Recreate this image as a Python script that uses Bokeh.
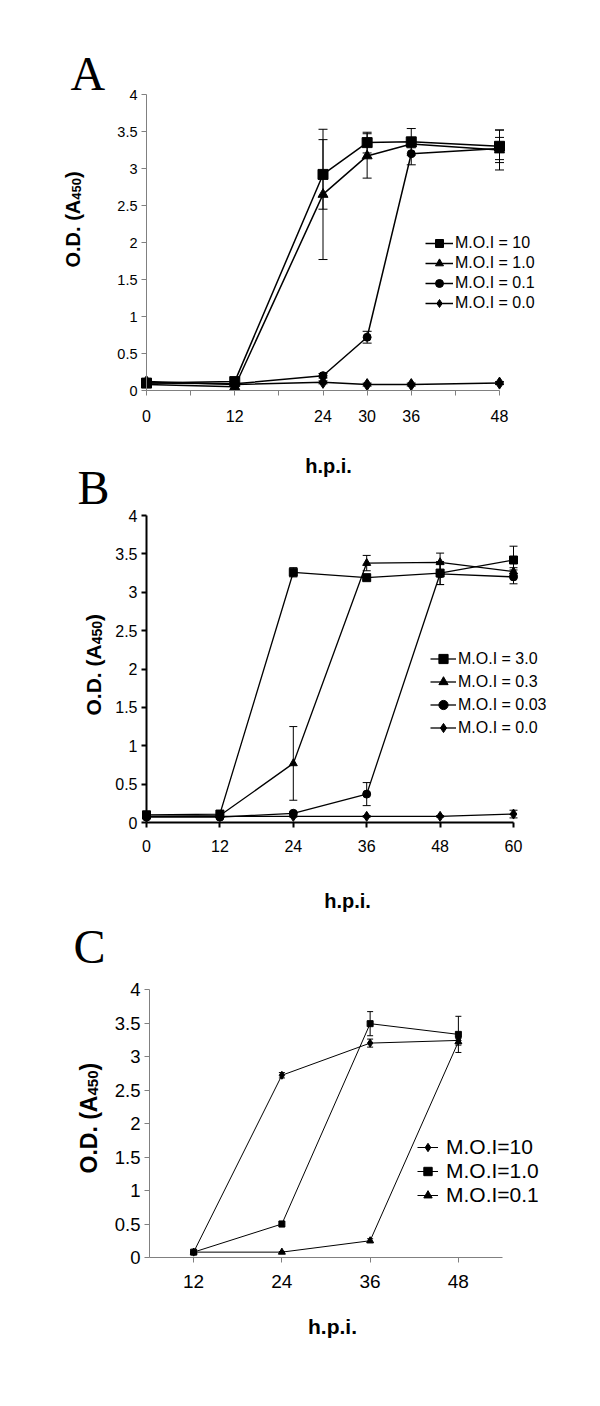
import math
from bokeh.plotting import figure
from bokeh.models import (ColumnDataSource, Whisker, TeeHead, Legend, LegendItem,
                          Label, FixedTicker, Range1d, LinearAxis)
from bokeh.layouts import column
from bokeh.embed import file_html
from bokeh.resources import INLINE

# ---------------- data ----------------
# Panel A
a_hpi = [0, 12, 24, 30, 36, 48]
a_moi10 = [0.10, 0.12, 2.92, 3.35, 3.36, 3.30]
a_moi10_err = [0.04, 0.04, 0.47, 0.14, 0.18, 0.22]
a_moi1 = [0.08, 0.05, 2.65, 3.17, 3.33, 3.25]
a_moi1_err = [0.03, 0.03, 0.88, 0.30, 0.05, 0.27]
a_moi01 = [0.10, 0.09, 0.20, 0.72, 3.20, 3.27]
a_moi01_err = [0.03, 0.02, 0.03, 0.08, 0.15, 0.15]
a_moi0 = [0.12, 0.08, 0.11, 0.08, 0.08, 0.10]
a_moi0_err = [0.03, 0.02, 0.02, 0.02, 0.02, 0.02]
a_labels = ["M.O.I = 10", "M.O.I = 1.0", "M.O.I = 0.1", "M.O.I = 0.0"]

# Panel B
b_hpi = [0, 12, 24, 36, 48, 60]
b_moi3 = [0.10, 0.11, 3.26, 3.19, 3.25, 3.42]
b_moi3_err = [0.02, 0.02, 0.06, 0.03, 0.15, 0.18]
b_moi03 = [0.08, 0.09, 0.77, 3.38, 3.39, 3.27]
b_moi03_err = [0.02, 0.02, 0.48, 0.10, 0.12, 0.05]
b_moi003 = [0.07, 0.07, 0.12, 0.37, 3.24, 3.20]
b_moi003_err = [0.02, 0.02, 0.02, 0.15, 0.14, 0.09]
b_moi0 = [0.08, 0.08, 0.08, 0.08, 0.08, 0.11]
b_moi0_err = [0.01, 0.01, 0.01, 0.01, 0.01, 0.05]
b_labels = ["M.O.I = 3.0", "M.O.I = 0.3", "M.O.I = 0.03", "M.O.I = 0.0"]

# Panel C
c_hpi = [12, 24, 36, 48]
c_moi10 = [0.08, 2.72, 3.20, 3.24]
c_moi10_err = [0.01, 0.04, 0.06, 0.04]
c_moi1 = [0.08, 0.50, 3.49, 3.33]
c_moi1_err = [0.01, 0.04, 0.18, 0.27]
c_moi01 = [0.08, 0.08, 0.25, 3.22]
c_moi01_err = [0.01, 0.01, 0.03, 0.05]
c_labels = ["M.O.I=10", "M.O.I=1.0", "M.O.I=0.1"]

y_ticks = [0, 0.5, 1, 1.5, 2, 2.5, 3, 3.5, 4]
y_tick_labels = ["0", "0.5", "1", "1.5", "2", "2.5", "3", "3.5", "4"]

FONT = "Liberation Sans"
PAGE_W = 584
ORIGIN = 0  # page offset of the layout as observed in the render


def make_panel(cfg):
    top, h = cfg["top"], cfg["h"]
    fl, fr, ft, fb = cfg["frame"]   # page pixel box of the data area
    xr = cfg["xr"]

    def dx(px):
        return xr[0] + (px - fl) / (fr - fl) * (xr[1] - xr[0])

    def dy(py):
        return (fb - py) / (fb - ft) * 4.0

    p = figure(width=PAGE_W, height=h,
               x_range=Range1d(dx(ORIGIN), dx(ORIGIN + PAGE_W)),
               y_range=Range1d(dy(top + h), dy(top)),
               output_backend="svg", toolbar_location=None,
               x_axis_location=None, y_axis_location=None,
               min_border=0)
    p.outline_line_color = None
    p.xgrid.visible = False
    p.ygrid.visible = False
    p.background_fill_color = "white"

    if cfg["xr"] is not None and cfg.get("series"):
        # axes fixed at the data origin
        xax = LinearAxis(fixed_location=0, bounds=xr)
        yax = LinearAxis(fixed_location=xr[0], bounds=(0, 4))
        for ax in (xax, yax):
            ax.axis_line_color = cfg["axis_color"]
            ax.axis_line_width = cfg["axis_width"]
            ax.major_tick_line_color = cfg["axis_color"]
            ax.major_tick_line_width = cfg["axis_width"]
            ax.major_tick_out = 5
            ax.major_tick_in = 0
            ax.minor_tick_line_color = None
            ax.major_label_text_font = FONT
            ax.major_label_text_color = "black"
        yax.ticker = FixedTicker(ticks=y_ticks)
        yax.major_label_overrides = {t: s for t, s in zip(y_ticks, y_tick_labels)}
        yax.major_label_text_font_size = cfg["ytick_fs"]
        yax.major_label_standoff = 4
        xax.ticker = FixedTicker(ticks=cfg["xticks"])
        xax.major_label_overrides = cfg["xlabels"]
        xax.major_label_text_font_size = cfg["xtick_fs"]
        xax.major_label_standoff = cfg["x_standoff"]
        p.add_layout(xax, "below")
        p.add_layout(yax, "left")

    # series
    items = []
    for (x, y, e, marker, size, label) in cfg["series"]:
        src = ColumnDataSource(dict(x=x, y=y,
                                    lo=[a - b for a, b in zip(y, e)],
                                    hi=[a + b for a, b in zip(y, e)]))
        w = Whisker(source=src, base="x", upper="hi", lower="lo",
                    line_color="black", line_width=1,
                    upper_head=TeeHead(size=cfg["cap"], line_color="black", line_width=1),
                    lower_head=TeeHead(size=cfg["cap"], line_color="black", line_width=1))
        p.add_layout(w)
        lr = p.line("x", "y", source=src, line_color="black", line_width=cfg["lw"])
        sr = p.scatter("x", "y", source=src, marker=marker, size=size,
                       fill_color="black", line_color="black")
        items.append((label, [lr, sr]))

    legend_items = [LegendItem(label=l, renderers=r) for l, r in reversed(items)]
    lg_x, lg_top, row_h, gw, stand, fs = cfg["legend"]
    lg = Legend(items=legend_items,
                location=(lg_x - ORIGIN, (top + h) - (lg_top + row_h * len(legend_items))),
                padding=0, margin=0, spacing=0,
                glyph_width=gw, glyph_height=row_h, label_height=row_h,
                label_standoff=stand, label_text_font=FONT, label_text_font_size=fs,
                label_text_color="black",
                border_line_alpha=0, background_fill_alpha=0)
    p.add_layout(lg, "center")

    # panel letter
    lx, lb = cfg["letter_pos"]
    p.add_layout(Label(x=dx(lx), y=dy(lb), text=cfg["letter"], text_font="Liberation Serif",
                       text_font_size="48px", text_align="left", text_baseline="alphabetic",
                       text_color="black"))
    # x titles (page positions; one may belong to the panel above)
    for tx, tb, tfs in cfg["xtitles"]:
        p.add_layout(Label(x=dx(tx), y=dy(tb), text="h.p.i.", text_font=FONT,
                           text_font_style="bold", text_font_size=f"{tfs}px",
                           text_align="center", text_baseline="alphabetic",
                           text_color="black"))
    # y title with subscript
    bx, sy, F = cfg["ytitle"]
    sub = round(F * 0.65)
    w1 = 3.389 * F
    w2 = 1.668 * sub
    common = dict(angle=math.pi / 2, text_font=FONT, text_font_style="bold",
                  text_align="left", text_baseline="alphabetic", text_color="black")
    p.add_layout(Label(x=dx(bx), y=dy(sy), text="O.D. (A", text_font_size=f"{F}px", **common))
    p.add_layout(Label(x=dx(bx + 0.18 * F), y=dy(sy - w1), text="450",
                       text_font_size=f"{sub}px", **common))
    p.add_layout(Label(x=dx(bx), y=dy(sy - w1 - w2), text=")", text_font_size=f"{F}px", **common))
    return p


cfgA = dict(
    top=0, h=448, frame=(146, 499, 94, 390), xr=(0, 48),
    axis_color="#808080", axis_width=1, ytick_fs="14.5px", xtick_fs="16px", x_standoff=14,
    xticks=[0, 6, 12, 18, 24, 30, 36, 42, 48],
    xlabels={0: "0", 6: "", 12: "12", 18: "", 24: "24", 30: "30", 36: "36", 42: "", 48: "48"},
    cap=9, lw=1.5,
    series=[
        (a_hpi, a_moi0, a_moi0_err, "diamond", 12, a_labels[3]),
        (a_hpi, a_moi01, a_moi01_err, "circle", 8, a_labels[2]),
        (a_hpi, a_moi1, a_moi1_err, "triangle", 10, a_labels[1]),
        (a_hpi, a_moi10, a_moi10_err, "square", 10, a_labels[0]),
    ],
    legend=(425, 233, 20, 28, 2, "16px"),
    letter="A", letter_pos=(70, 73),
    xtitles=[],
    ytitle=(72, 267, 20),
)

cfgB = dict(
    top=448, h=430, frame=(146, 513, 515, 822), xr=(0, 60),
    axis_color="black", axis_width=2, ytick_fs="16px", xtick_fs="16px", x_standoff=12,
    xticks=[0, 12, 24, 36, 48, 60],
    xlabels={0: "0", 12: "12", 24: "24", 36: "36", 48: "48", 60: "60"},
    cap=8, lw=1.3,
    series=[
        (b_hpi, b_moi0, b_moi0_err, "diamond", 10, b_labels[3]),
        (b_hpi, b_moi003, b_moi003_err, "circle", 8, b_labels[2]),
        (b_hpi, b_moi03, b_moi03_err, "triangle", 8, b_labels[1]),
        (b_hpi, b_moi3, b_moi3_err, "square", 8, b_labels[0]),
    ],
    legend=(430, 647, 23, 26, 2, "16px"),
    letter="B", letter_pos=(77, 487),
    xtitles=[(328, 465, 20)],   # panel A's axis title sits in this band
    ytitle=(93, 715, 21),
)

cfgC = dict(
    top=878, h=512, frame=(149, 502, 989, 1257), xr=(6, 54),
    axis_color="#808080", axis_width=1, ytick_fs="18.5px", xtick_fs="19px", x_standoff=12,
    xticks=[12, 24, 36, 48],
    xlabels={12: "12", 24: "24", 36: "36", 48: "48"},
    cap=6, lw=1,
    series=[
        (c_hpi, c_moi01, c_moi01_err, "triangle", 7, c_labels[2]),
        (c_hpi, c_moi1, c_moi1_err, "square", 6, c_labels[1]),
        (c_hpi, c_moi10, c_moi10_err, "diamond", 8, c_labels[0]),
    ],
    legend=(417, 1135, 24, 21, 8, "21px"),
    letter="C", letter_pos=(73, 946),
    xtitles=[(347, 900, 20), (332, 1326, 21)],   # panel B's and panel C's axis titles
    ytitle=(88, 1173, 23),
)

pA = make_panel(cfgA)
pB = make_panel(cfgB)
pC = make_panel(cfgC)

layout = column(pA, pB, pC, spacing=0)
open("out.html", "w").write(file_html(layout, INLINE))
